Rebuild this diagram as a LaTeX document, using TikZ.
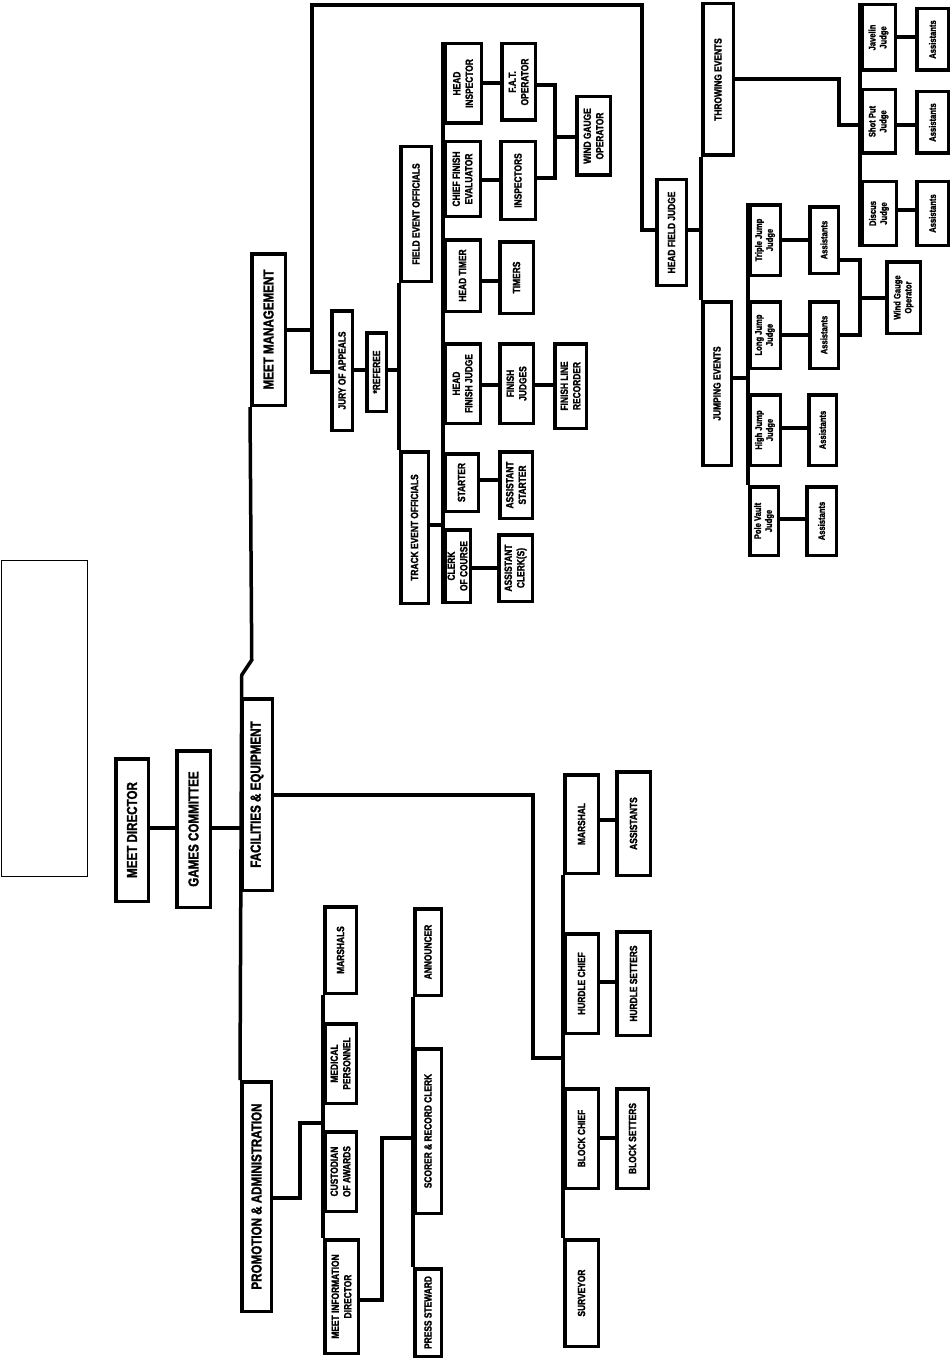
\documentclass[tikz,border=0pt]{standalone}
\usepackage{fontspec}
\newfontfamily\chartfont{Liberation Sans}[UprightFont=* Bold, BoldFont=* Bold, FakeStretch=0.8, FakeBold=1.6]
\begin{document}
\begin{tikzpicture}[x=1pt,y=-1pt,
  bx/.style={draw, line width=3.5pt, rotate=90, inner sep=0pt, align=center, fill=white},
  ln/.style={line width=3.5pt},
  bigf/.style={font=\chartfont\fontsize{14.5}{16}\selectfont},
  medf/.style={font=\chartfont\fontsize{10.5}{12.5}\selectfont},
  smlf/.style={font=\chartfont\fontsize{9.5}{11}\selectfont}]
\newcommand\orgbox[7]{\node[bx,#6,minimum width={(#5-#3-3.5)*1pt},minimum height={(#4-#2-3.5)*1pt}] (#1) at ({(#2+#4)/2},{(#3+#5)/2}) {#7};}
\useasboundingbox (0,0) rectangle (951,1367);
% blank frame
\node[draw, line width=1pt, inner sep=0pt, minimum width=86pt, minimum height=316pt] (blank) at (44,718.5) {};
% main chain
\orgbox{md}{114}{757}{150}{903}{bigf}{MEET DIRECTOR}
\orgbox{gc}{175}{749}{212}{909}{bigf}{GAMES COMMITTEE}
\orgbox{fe}{240}{697}{274}{892}{bigf}{FACILITIES \& EQUIPMENT}
\orgbox{pa}{240}{1080}{273}{1313}{bigf}{PROMOTION \& ADMINISTRATION}
\orgbox{mm}{250}{252}{287}{407}{bigf}{MEET MANAGEMENT}
% meet management branch
\orgbox{jury}{330}{309}{354}{432}{medf}{JURY OF APPEALS}
\orgbox{ref}{365}{331}{388}{413}{medf}{*REFEREE}
\orgbox{feo}{399}{145}{433}{283}{medf}{FIELD EVENT OFFICIALS}
\orgbox{teo}{399}{450}{430}{605}{medf}{TRACK EVENT OFFICIALS}
\orgbox{hi}{443}{42}{483}{125}{medf}{HEAD\\INSPECTOR}
\orgbox{fat}{500}{42}{537}{122}{medf}{F.A.T.\\OPERATOR}
\orgbox{cfe}{443}{140}{482}{218}{medf}{CHIEF FINISH\\EVALUATOR}
\orgbox{ins}{499}{140}{537}{221}{medf}{INSPECTORS}
\orgbox{wgo}{575}{95}{612}{177}{medf}{WIND GAUGE\\OPERATOR}
\orgbox{ht}{443}{238}{482}{313}{medf}{HEAD TIMER}
\orgbox{tm}{498}{240}{535}{315}{medf}{TIMERS}
\orgbox{hfjd}{443}{342}{482}{425}{medf}{HEAD\\FINISH JUDGE}
\orgbox{fj}{498}{342}{535}{425}{medf}{FINISH\\JUDGES}
\orgbox{flr}{553}{342}{588}{430}{medf}{FINISH LINE\\RECORDER}
\orgbox{st}{443}{452}{480}{513}{medf}{STARTER}
\orgbox{ast}{498}{450}{534}{520}{medf}{ASSISTANT\\STARTER}
\orgbox{coc}{443}{528}{472}{604}{medf}{CLERK\\OF COURSE}
\orgbox{ac}{497}{533}{534}{603}{medf}{ASSISTANT\\CLERK(S)}
\orgbox{hfj}{655}{178}{688}{287}{medf}{HEAD FIELD JUDGE}
\orgbox{te}{701}{2}{735}{157}{medf}{THROWING EVENTS}
\orgbox{je}{701}{300}{733}{467}{medf}{JUMPING EVENTS}
\orgbox{jav}{860}{3}{897}{72}{smlf}{Javelin\\Judge}
\orgbox{ja}{915}{7}{950}{72}{smlf}{Assistants}
\orgbox{sp}{860}{88}{897}{155}{smlf}{Shot Put\\Judge}
\orgbox{sa}{915}{90}{950}{155}{smlf}{Assistants}
\orgbox{dis}{860}{180}{898}{247}{smlf}{Discus\\Judge}
\orgbox{da}{915}{180}{950}{247}{smlf}{Assistants}
\orgbox{tj}{748}{203}{782}{277}{smlf}{Triple Jump\\Judge}
\orgbox{ta}{808}{205}{840}{275}{smlf}{Assistants}
\orgbox{lj}{748}{300}{782}{370}{smlf}{Long Jump\\Judge}
\orgbox{la}{808}{300}{840}{370}{smlf}{Assistants}
\orgbox{hj}{748}{393}{782}{467}{smlf}{High Jump\\Judge}
\orgbox{ha}{807}{393}{838}{467}{smlf}{Assistants}
\orgbox{pv}{748}{485}{780}{557}{smlf}{Pole Vault\\Judge}
\orgbox{pva}{805}{485}{838}{557}{smlf}{Assistants}
\orgbox{wg}{885}{260}{922}{335}{smlf}{Wind Gauge\\Operator}
% facilities branch
\orgbox{mar}{563}{773}{600}{875}{medf}{MARSHAL}
\orgbox{mas}{615}{770}{652}{877}{medf}{ASSISTANTS}
\orgbox{hc}{563}{932}{600}{1035}{medf}{HURDLE CHIEF}
\orgbox{hs}{615}{930}{652}{1037}{medf}{HURDLE SETTERS}
\orgbox{bc}{563}{1087}{600}{1190}{medf}{BLOCK CHIEF}
\orgbox{bs}{615}{1087}{650}{1190}{medf}{BLOCK SETTERS}
\orgbox{sur}{563}{1238}{600}{1348}{medf}{SURVEYOR}
% promotion branch
\orgbox{mars}{323}{905}{358}{995}{medf}{MARSHALS}
\orgbox{med}{323}{1022}{358}{1105}{medf}{MEDICAL\\PERSONNEL}
\orgbox{cus}{323}{1130}{358}{1213}{medf}{CUSTODIAN\\OF AWARDS}
\orgbox{mid}{323}{1238}{360}{1355}{medf}{MEET INFORMATION\\DIRECTOR}
\orgbox{ann}{413}{907}{443}{997}{medf}{ANNOUNCER}
\orgbox{src}{413}{1047}{443}{1215}{medf}{SCORER \& RECORD CLERK}
\orgbox{ps}{413}{1267}{443}{1358}{medf}{PRESS STEWARD}
% connectors: main
\draw[ln] (md.south |- 0,828) -- (gc.north |- 0,828);
\draw[ln] (gc.south |- 0,828) -- (fe.north |- 0,828);
\draw[ln] (pa.north east) -- (241.75,675) -- (251.75,660) -- (mm.north west);
% meet management
\draw[ln] (mm.south |- 0,330) -- (312,330);
\draw[ln] (jury.north |- 0,372) -- (312,372) -- (312,5) -- (642,5) -- (642,230) -- (hfj.north |- 0,230);
\draw[ln] (jury.south |- 0,370) -- (ref.north |- 0,370);
\draw[ln] (ref.south |- 0,370) -- (feo.north |- 0,370);
\draw[ln] (feo.north west) -- (teo.north east);
\draw[ln] (teo.south |- 0,525) -- (coc.north |- 0,525);
\draw[ln] (hi.north east) -- (coc.north west);
\draw[ln] (hi.south |- 0,83) -- (fat.north |- 0,83);
\draw[ln] (cfe.south |- 0,180) -- (ins.north |- 0,180);
\draw[ln] (ht.south |- 0,281) -- (tm.north |- 0,281);
\draw[ln] (hfjd.south |- 0,385) -- (fj.north |- 0,385);
\draw[ln] (fj.south |- 0,385) -- (flr.north |- 0,385);
\draw[ln] (st.south |- 0,480) -- (ast.north |- 0,480);
\draw[ln] (coc.south |- 0,568) -- (ac.north |- 0,568);
\draw[ln] (fat.south |- 0,85) -- (555,85) -- (555,178) -- (ins.south |- 0,178);
\draw[ln] (555,137) -- (wgo.north |- 0,137);
% field judges
\draw[ln] (hfj.south |- 0,230) -- (te.north |- 0,230);
\draw[ln] (te.north west) -- (je.north east);
\draw[ln] (te.south |- 0,79) -- (839,79) -- (839,125) -- (sp.north |- 0,125);
\draw[ln] (jav.north east) -- (dis.north west);
\draw[ln] (jav.south |- 0,37) -- (ja.north |- 0,37);
\draw[ln] (sp.south |- 0,125) -- (sa.north |- 0,125);
\draw[ln] (dis.south |- 0,210) -- (da.north |- 0,210);
\draw[ln] (je.south |- 0,378) -- (lj.north |- 0,378);
\draw[ln] (tj.north east) -- (pv.north east);
\draw[ln] (tj.south |- 0,240) -- (ta.north |- 0,240);
\draw[ln] (lj.south |- 0,335) -- (la.north |- 0,335);
\draw[ln] (hj.south |- 0,428) -- (ha.north |- 0,428);
\draw[ln] (pv.south |- 0,519) -- (pva.north |- 0,519);
\draw[ln] (ta.south |- 0,260) -- (860,260) -- (860,335) -- (la.south |- 0,335);
\draw[ln] (860,298) -- (wg.north |- 0,298);
% facilities
\draw[ln] (fe.south |- 0,795) -- (533,795) -- (533,1058) -- (hc.north |- 0,1058);
\draw[ln] (mar.north west) -- (sur.north east);
\draw[ln] (mar.south |- 0,820) -- (mas.north |- 0,820);
\draw[ln] (hc.south |- 0,982) -- (hs.north |- 0,982);
\draw[ln] (bc.south |- 0,1138) -- (bs.north |- 0,1138);
% promotion
\draw[ln] (pa.south |- 0,1198) -- (300,1198) -- (300,1123) -- (med.north |- 0,1123);
\draw[ln] (mars.north west) -- (mid.north east);
\draw[ln] (mid.south |- 0,1300) -- (382,1300) -- (382,1138) -- (src.north |- 0,1138);
\draw[ln] (ann.north west) -- (ps.north east);
\end{tikzpicture}
\end{document}
